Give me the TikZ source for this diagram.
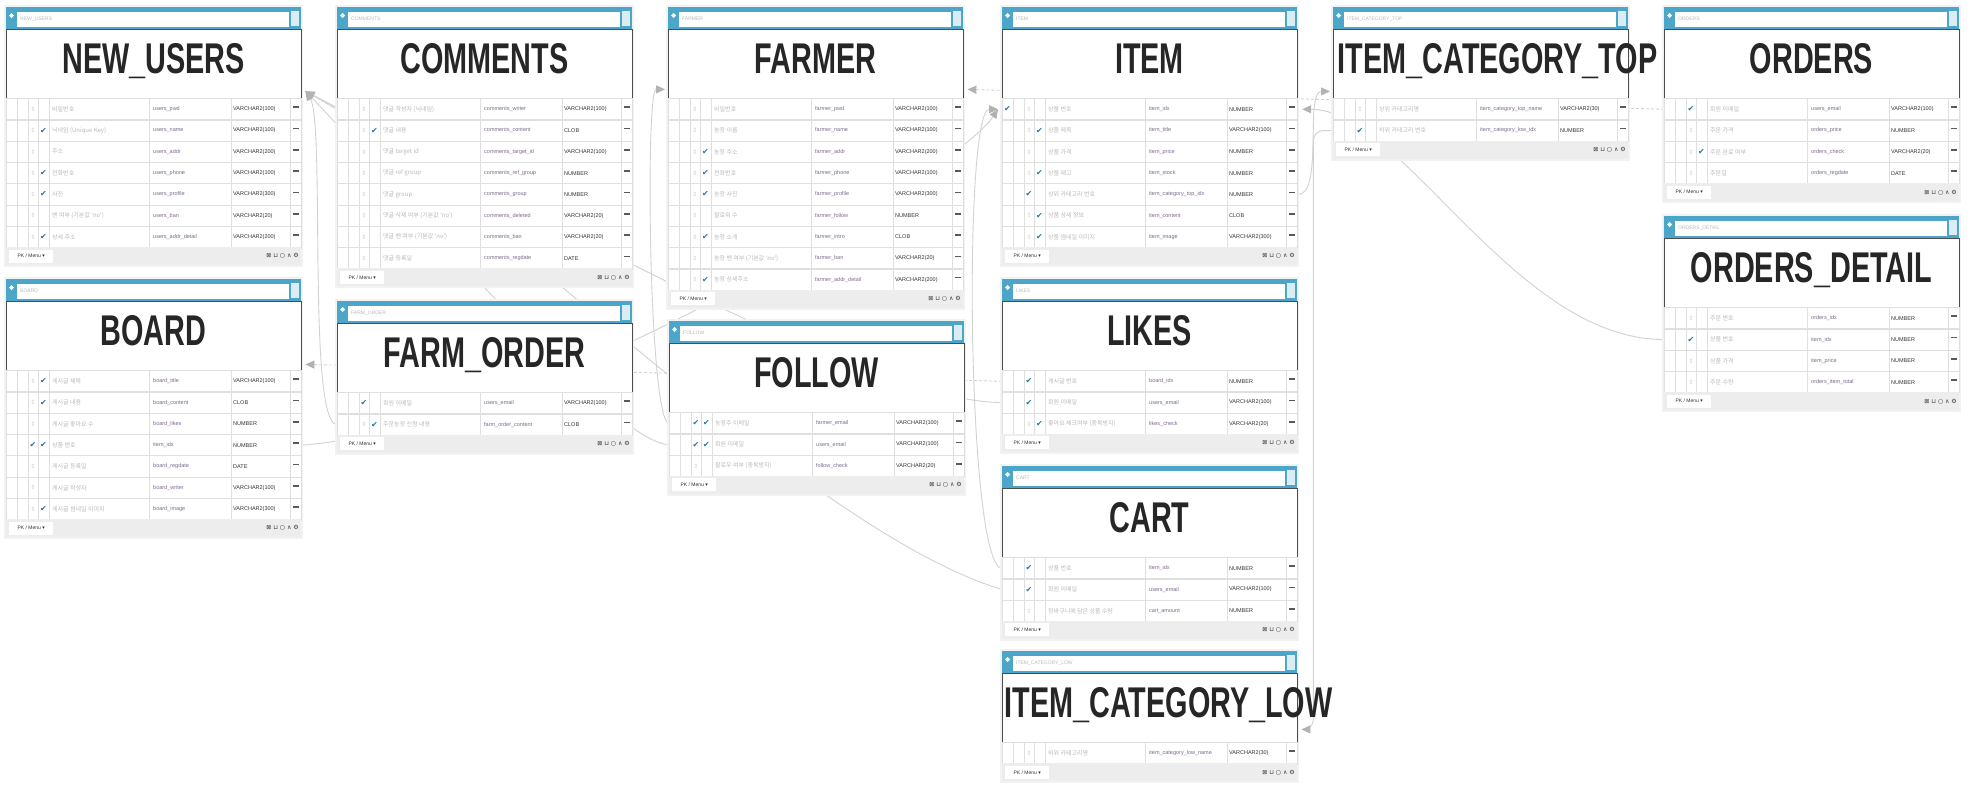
\documentclass[tikz,border=0pt]{standalone}
\usepackage{fontspec}
\usepackage{graphicx}
\usepackage{tikz}
\usetikzlibrary{arrows.meta,calc}
\newfontfamily\ttlfont{Liberation Sans}
\newfontfamily\krfont{Noto Sans CJK KR}
\newfontfamily\symfont{DejaVu Sans}
\definecolor{tblue}{RGB}{76,166,201}
\definecolor{chk}{RGB}{38,118,158}
\definecolor{colname}{RGB}{125,105,140}
\pgfdeclarelayer{bg}
\pgfsetlayers{bg,main}

\newcommand{\ckmark}{{\symfont\fontsize{8}{8}\selectfont\textcolor{chk}{✔}}}
\newcommand{\keymark}{{\symfont\fontsize{6}{6}\selectfont\textcolor{gray!35}{⇕}}}

% #1 title opts, #2 id, #3 x, #4 y, #5 title, #6 rows count, #7 rows
\newcommand{\dbtable}[7][]{%
  \pgfmathsetmacro{\yend}{#4+91+#6*21.3}
  \fill[gray!10] (#3-2,#4-2) rectangle (#3+297,\yend+20);
  \fill[tblue] (#3,#4) rectangle ++(295,22);
  \draw[white, fill=white] (#3+11,#4+5) rectangle (#3+282,#4+19);
  \node[hdrname] at (#3+14,#4+12) {#5};
  \fill[white!80!tblue] (#3+285,#4+4) rectangle (#3+293,#4+19);
  \fill[white] (#3+5.5,#4+6) -- (#3+8,#4+8.5) -- (#3+5.5,#4+11) -- (#3+3,#4+8.5) -- cycle;
  \node[titlebox] (#2) at (#3,#4+22) {};
  \node[ttltext,#1] at ({#3+147.5},{#4+66}) {\scalebox{0.67}[1]{#5}};
  \foreach \kor/\col/\typ/\pk/\fk/\nn [count=\i] in {#7} {
    \node[rowbox] (#2-\i) at (#3,{#4+91+(\i-1)*21.3}) {};
    \node[krtext] at ($(#2-\i.west)+(46,0)$) {\kor};
    \node[coltext] at ($(#2-\i.west)+(147,0)$) {\col};
    \node[typtext] at ($(#2-\i.west)+(227,0)$) {\typ};
    \draw[line width=1.6pt, gray!70!black] ($(#2-\i.west)+(287,-2)$) -- ++(6,0);
    \ifnum\pk=1 \node at ($(#2-\i.west)+(5.5,0)$) {\ckmark}; \fi
    \ifnum\fk=1 \node at ($(#2-\i.west)+(27,0)$) {\ckmark};
    \else \node at ($(#2-\i.west)+(27,0)$) {\keymark}; \fi
    \ifnum\nn=1 \node at ($(#2-\i.west)+(37.5,0)$) {\ckmark}; \fi
  }
  \foreach \cx in {11,22,32,43,143,225,284}
    \draw[cellline] (#3+\cx,#4+91) -- (#3+\cx,\yend);
  \fill[gray!14] (#3,\yend) rectangle ++(295,18);
  \node[pkbox] at (#3+3,\yend+9) {PK / Menu {\symfont▾}};
  \node[tools] at (#3+293,\yend+9) {⊠ ⊔ ○ ∧ ⚙};
}

\begin{document}
\begin{tikzpicture}[x=1pt, y=-1pt,
    hdrname/.style={anchor=west, inner sep=0, text=gray!55,
      font=\ttlfont\fontsize{5}{5}\selectfont},
    titlebox/.style={anchor=north west, minimum width=295pt, minimum height=69pt,
      inner sep=0, draw=gray!60!black, line width=1.4pt, fill=white},
    ttltext/.style={anchor=base, inner sep=0, text=black!85,
      font=\ttlfont\bfseries\fontsize{43}{43}\selectfont},
    rowbox/.style={anchor=north west, minimum width=295pt, minimum height=21.3pt,
      inner sep=0, draw=gray!25, line width=1.2pt, fill=white},
    cellline/.style={draw=gray!25, line width=1pt},
    krtext/.style={anchor=west, inner sep=0, text=gray!55,
      font=\krfont\fontsize{6}{6}\selectfont},
    coltext/.style={anchor=west, inner sep=0, text=colname,
      font=\ttlfont\fontsize{5.5}{5.5}\selectfont},
    typtext/.style={anchor=west, inner sep=0, text=gray!40!black,
      font=\ttlfont\fontsize{5.5}{5.5}\selectfont},
    pkbox/.style={anchor=west, fill=white, inner sep=1.5pt, minimum height=13pt,
      minimum width=44pt, text=gray!40!black, font=\ttlfont\fontsize{5}{5}\selectfont},
    tools/.style={anchor=east, inner sep=0, text=gray!45!black,
      font=\symfont\fontsize{6}{6}\selectfont},
    fk/.style={draw=gray!35, line width=0.9pt,
      -{Triangle[length=9pt,width=8pt,color=gray!60,fill=gray!60]}},
    fkd/.style={fk, dash pattern=on 3pt off 2pt}]
  \useasboundingbox (0,0) rectangle (1975,795);
  \begin{pgfonlayer}{bg}
    \fill[white] (0,0) rectangle (1975,795);
  \end{pgfonlayer}

  \dbtable{users}{6}{7}{NEW\_USERS}{7}{%
    비밀번호/users\_pwd/VARCHAR2(100)/0/0/0,
    닉네임 (Unique Key)/users\_name/VARCHAR2(100)/0/0/1,
    주소/users\_addr/VARCHAR2(200)/0/0/0,
    전화번호/users\_phone/VARCHAR2(100)/0/0/1,
    사진/users\_profile/VARCHAR2(300)/0/0/1,
    밴 여부 (기본값 'no')/users\_ban/VARCHAR2(20)/0/0/0,
    상세 주소/users\_addr\_detail/VARCHAR2(200)/0/0/1}
  \dbtable{comments}{337}{7}{COMMENTS}{8}{%
    댓글 작성자 (닉네임)/comments\_writer/VARCHAR2(100)/0/0/0,
    댓글 내용/comments\_content/CLOB/0/0/1,
    댓글 target id/comments\_target\_id/VARCHAR2(100)/0/0/0,
    댓글 ref group/comments\_ref\_group/NUMBER/0/0/0,
    댓글 group/comments\_group/NUMBER/0/0/0,
    댓글 삭제 여부 (기본값 'no')/comments\_deleted/VARCHAR2(20)/0/0/0,
    댓글 밴 여부 (기본값 'no')/comments\_ban/VARCHAR2(20)/0/0/0,
    댓글 등록일/comments\_regdate/DATE/0/0/0}
  \dbtable{farmer}{668}{7}{FARMER}{9}{%
    비밀번호/farmer\_pwd/VARCHAR2(100)/0/0/0,
    농장 이름/farmer\_name/VARCHAR2(100)/0/0/0,
    농장 주소/farmer\_addr/VARCHAR2(200)/0/0/1,
    전화번호/farmer\_phone/VARCHAR2(100)/0/0/1,
    농장 사진/farmer\_profile/VARCHAR2(300)/0/0/1,
    팔로워 수/farmer\_follow/NUMBER/0/0/0,
    농장 소개/farmer\_intro/CLOB/0/0/1,
    농장 밴 여부 (기본값 'no')/farmer\_ban/VARCHAR2(20)/0/0/0,
    농장 상세주소/farmer\_addr\_detail/VARCHAR2(200)/0/0/1}
  \dbtable{item}{1002}{7}{ITEM}{7}{%
    상품 번호/item\_idx/NUMBER/1/0/0,
    상품 제목/item\_title/VARCHAR2(100)/0/0/1,
    상품 가격/item\_price/NUMBER/0/0/0,
    상품 재고/item\_stock/NUMBER/0/0/1,
    상위 카테고리 번호/item\_category\_top\_idx/NUMBER/0/1/0,
    상품 상세 정보/item\_content/CLOB/0/0/1,
    상품 썸네일 이미지/item\_image/VARCHAR2(300)/0/0/1}
  \dbtable[xshift=17pt]{ict}{1333}{7}{ITEM\_CATEGORY\_TOP}{2}{%
    상위 카테고리명/item\_category\_top\_name/VARCHAR2(30)/0/0/0,
    하위 카테고리 번호/item\_category\_low\_idx/NUMBER/0/1/0}
  \dbtable{orders}{1664}{7}{ORDERS}{4}{%
    회원 이메일/users\_email/VARCHAR2(100)/0/1/0,
    주문 가격/orders\_price/NUMBER/0/0/0,
    주문 완료 여부/orders\_check/VARCHAR2(20)/0/0/1,
    주문일/orders\_regdate/DATE/0/0/0}
  \dbtable{ordersd}{1664}{216}{ORDERS\_DETAIL}{4}{%
    주문 번호/orders\_idx/NUMBER/0/0/0,
    상품 번호/item\_idx/NUMBER/0/1/0,
    상품 가격/item\_price/NUMBER/0/0/0,
    주문 수량/orders\_item\_total/NUMBER/0/0/0}
  \dbtable{board}{6}{279}{BOARD}{7}{%
    게시글 제목/board\_title/VARCHAR2(100)/0/0/1,
    게시글 내용/board\_content/CLOB/0/0/1,
    게시글 좋아요 수/board\_likes/NUMBER/0/0/0,
    상품 번호/item\_idx/NUMBER/0/1/1,
    게시글 등록일/board\_regdate/DATE/0/0/0,
    게시글 작성자/board\_writer/VARCHAR2(100)/0/0/0,
    게시글 썸네일 이미지/board\_image/VARCHAR2(300)/0/0/1}
  \dbtable{farmorder}{337}{301}{FARM\_ORDER}{2}{%
    회원 이메일/users\_email/VARCHAR2(100)/0/1/0,
    주문농장 신청 내용/farm\_order\_content/CLOB/0/0/1}
  \dbtable{follow}{669}{321}{FOLLOW}{3}{%
    농장주 이메일/farmer\_email/VARCHAR2(100)/0/1/1,
    회원 이메일/users\_email/VARCHAR2(100)/0/1/1,
    팔로우 여부 (중복방지)/follow\_check/VARCHAR2(20)/0/0/0}
  \dbtable{likes}{1002}{279}{LIKES}{3}{%
    게시글 번호/board\_idx/NUMBER/0/1/0,
    회원 이메일/users\_email/VARCHAR2(100)/0/1/0,
    좋아요 체크여부 (중복방지)/likes\_check/VARCHAR2(20)/0/0/1}
  \dbtable{cart}{1002}{466}{CART}{3}{%
    상품 번호/item\_idx/NUMBER/0/1/0,
    회원 이메일/users\_email/VARCHAR2(100)/0/1/0,
    장바구니에 담은 상품 수량/cart\_amount/NUMBER/0/0/0}
  \dbtable[xshift=19pt]{icl}{1002}{651}{ITEM\_CATEGORY\_LOW}{1}{%
    하위 카테고리명/item\_category\_low\_name/VARCHAR2(30)/0/0/0}

  \coordinate (users-in) at ([xshift=3pt,yshift=8pt]users.south east);
  \coordinate (board-in) at ([xshift=3pt,yshift=7pt]board.south east);
  \coordinate (farmer-inl) at ([xshift=-3pt,yshift=10pt]farmer.south west);
  \coordinate (farmer-inr) at ([xshift=3pt,yshift=10pt]farmer.south east);
  \coordinate (item-in) at ([xshift=-4pt]item-1.west);
  \coordinate (item-inr) at ([xshift=4pt]item-1.east);
  \coordinate (ict-in) at ([xshift=-3pt,yshift=8pt]ict.south west);
  \coordinate (icl-in) at ([xshift=3pt,yshift=14pt]icl.south east);

  \begin{pgfonlayer}{bg}
    \draw[fkd] (comments-1.west) -- (users-in);
    \draw[fkd] (orders-1.west) -- (farmer-inr);
    \draw[fk] (farmorder-2.west) .. controls +(-30,0) and +(20,30) .. (users-in);
    \draw[fk] (follow-2.west) .. controls +(-60,0) and +(60,60) .. (users-in);
    \draw[fk] (likes-2.west) .. controls +(-150,0) and +(120,60) .. (users-in);
    \draw[fk] (cart-2.west) .. controls +(-200,-60) and +(150,80) .. (users-in);
    \draw[fkd] (likes-1.west) -- (board-in);
    \draw[fk] (board-4.east) .. controls +(250,-20) and +(-40,60) .. (item-in);
    \draw[fk] (cart-1.west) .. controls +(-35,0) and +(-35,0) .. (item-in);
    \draw[fk] (follow-1.west) .. controls +(-20,0) and +(-20,0) .. (farmer-inl);
    \draw[fk] (ordersd-2.west) .. controls +(-150,0) and +(100,0) .. (item-inr);
    \draw[fk] (item-5.east) .. controls +(25,0) and +(-25,0) .. (ict-in);
    \draw[fk, rounded corners=10pt] (ict-2.west) -| ($(icl-in)+(12,0)$) -- (icl-in);
  \end{pgfonlayer}
\end{tikzpicture}
\end{document}
